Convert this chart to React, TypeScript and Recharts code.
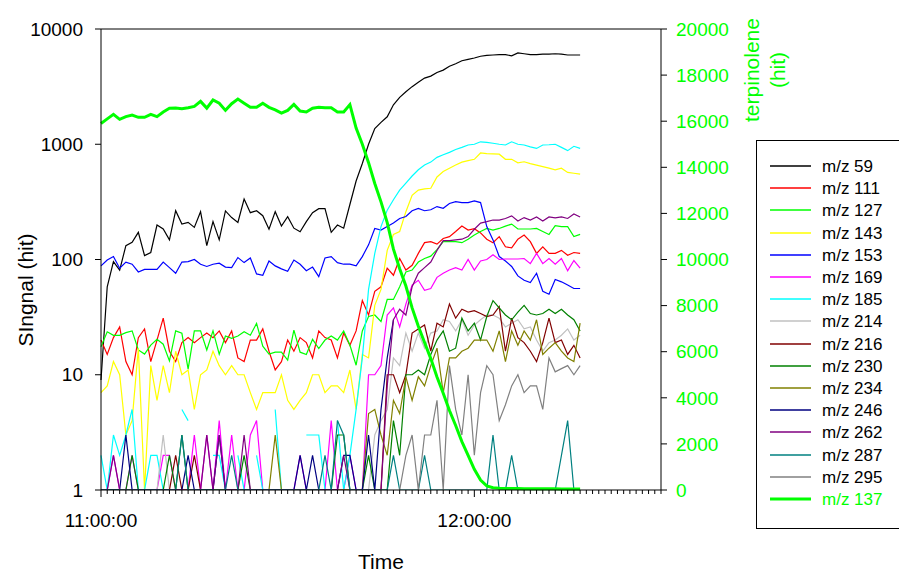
import { LineChart, Line, XAxis, YAxis, ReferenceLine } from "recharts";

const FONT = "'Liberation Sans', Arial, sans-serif";

// sampling time, minutes after 11:00:00
const minutes = [
  0, 1, 2, 3, 4, 5, 6, 7, 8, 9, 10, 11, 12, 13, 14, 15, 16, 17, 18, 19,
  20, 21, 22, 23, 24, 25, 26, 27, 28, 29, 30, 31, 32, 33, 34, 35, 36, 37, 38, 39,
  40, 41, 42, 43, 44, 45, 46, 47, 48, 49, 50, 51, 52, 53, 54, 55, 56, 57, 58, 59,
  60, 61, 62, 63, 64, 65, 66, 67, 68, 69, 70, 71, 72, 73, 74, 75, 76, 77,
];

const mz59 = [
  9, 58, 96, 81, 132, 141, 172, 108, 115, 199,
  184, 148, 265, 203, 210, 190, 260, 132, 213, 148,
  264, 231, 210, 335, 255, 265, 240, 183, 260, 195,
  235, 187, 174, 213, 255, 276, 276, 172, 199, 187,
  300, 480, 680, 1000, 1370, 1550, 1730, 2200, 2550, 2850,
  3160, 3450, 3750, 3900, 4200, 4400, 4750, 5000, 5300, 5450,
  5600, 5800, 5900, 5950, 6000, 6000, 5850, 6200, 6100, 6000,
  6000, 6050, 6050, 6100, 6050, 5950, 5950, 5950,
];
const mz111 = [
  20, 15, 21, 26, 13, 10, 21, 25, 13, 20,
  31, 16, 13, 19, 21, 19, 21, 23, 21, 24,
  19, 24, 14, 13, 20, 20, 25, 16, 11, 13,
  20, 16, 21, 19, 14, 24, 21, 20, 14, 23,
  18, 24, 44, 33, 53, 58, 84, 73, 102, 81,
  89, 113, 140, 143, 136, 152, 158, 175, 195, 180,
  185, 170, 150, 140, 158, 129, 126, 150, 163, 143,
  113, 129, 113, 113, 120, 109, 115, 113,
];
const mz127 = [
  17.5, 23.6, 22, 22, 23.2, 24, 16.4, 15.1, 18.1, 20.3,
  18.4, 13.2, 24, 22.9, 11.2, 24, 24, 16.4, 24, 15.1,
  21.7, 20.7, 21.7, 23.6, 22, 27.9, 17.7, 15.1, 15.7, 15.7,
  13.4, 24.4, 15.7, 15, 20.3, 16.9, 20, 21.7, 20, 24,
  18.1, 12.1, 24, 32, 33, 29, 45, 45, 58, 78,
  81, 95, 102, 107, 122, 143, 143, 143, 140, 150,
  163, 175, 186, 180, 186, 195, 203, 184, 184, 184,
  186, 175, 165, 197, 193, 193, 158, 165,
];
const mz143 = [
  7, 8, 13, 10, 3, 4, 17, 1, 12, 6,
  12, 7, 16, 10, 11, 5, 10, 11, 16, 12,
  10, 12, 10, 10, 7, 5, 7, 7, 7, 10,
  6, 5, 6, 7, 10, 10, 7, 8, 8, 7,
  11, 5, 15, 14, 40, 55, 120, 165, 175, 260,
  360, 400, 410, 415, 520, 580, 620, 660, 700, 720,
  740, 840, 830, 825, 820, 740, 740, 690, 705, 680,
  660, 640, 620, 600, 620, 570, 560, 550,
];
const mz153 = [
  88, 99, 106, 84, 95, 91, 78, 82, 82, 82,
  95, 85, 76, 95, 96, 100, 91, 87, 91, 93,
  86, 85, 104, 94, 103, 75, 73, 97, 88, 83,
  79, 99, 91, 80, 86, 71, 103, 106, 94, 91,
  91, 88, 106, 134, 186, 180, 193, 207, 227, 236,
  265, 278, 265, 270, 288, 278, 306, 318, 312, 312,
  322, 312, 193, 148, 106, 97, 87, 72, 66, 63,
  76, 53, 50, 67, 64, 60, 56, 56,
];
const mz169 = [
  1, 1, 2, 1, 1, 2, 1, 1, 1, 1,
  2, 2, 1, 1, 1, 3, 1, 3, 1, 4,
  1, 3, 1, 1, 3, 4, 1, 1, 1, 1,
  1, 1, 2, 1, 1, 1, 1, 4, 1, 1,
  2, 1, 1, 10, 10, 12, 33, 38, 26, 41,
  60, 66, 54, 56, 70, 76, 81, 85, 81, 100,
  81, 97, 100, 110, 100, 101, 101, 101, 102, 92,
  113, 92, 102, 91, 102, 80, 98, 84,
];
const mz185 = [
  2, 1, 3, 2, 3, 5, 1, 1, 2, 2,
  1, null, null, 5, 4, null, null, null, 2, 2,
  1, null, 2, 1, null, 2, 1, null, 5, 1,
  null, null, null, 3, 3, 3, 1, null, 4, 1,
  2, 5, 14, 55, 113, 193, 268, 330, 400, 460,
  530, 600, 660, 700, 770, 810, 850, 900, 940, 985,
  1000, 1050, 1040, 1020, 1000, 985, 1050, 1000, 985, 950,
  920, 985, 990, 1000, 940, 880, 960, 920,
];
const mz214 = [
  1, 1, 1, 1, 1, 1, 1, 1, 1, 1,
  3, 1, 1, 1, 1, 1, 1, 1, 1, 1,
  1, 1, 1, 1, 1, 1, 1, 1, 1, 1,
  1, 1, 1, 1, 1, 1, 1, 1, 1, 1,
  1, 1, 1, 1, 3, 4, 5, 14, 12, 23,
  16, 23, 17, 23, 24, 30, 29, 24, 30, 22,
  27, 30, 33, 33, 31, 26, 28, 30, 25, 26,
  20, 16, 19, 20, 22, 25, 20, 22,
];
const mz216 = [
  1, 1, 1, 1, 1, 1, 1, 1, 1, 1,
  1, 1, 2, 1, 1, 2, 1, 1, 1, 1,
  1, 1, 1, 1, 1, 1, 1, 1, 1, 1,
  1, 1, 1, 1, 1, 1, 1, 1, 1, 1,
  1, 1, 1, 1, 1, 1, 10, 10, 7, 10,
  23, 25, 27, 16, 28, 26, 41, 31, 37, 35,
  36, 34, 32, 33, 39, 16, 31, 21, 19, 16,
  13, 19, 31, 19, 20, 15, 18, 14,
];
const mz230 = [
  1, 1, 1, 1, 1, 2, 1, 1, 1, 1,
  1, 2, 1, 3, 1, 1, 1, 1, 1, 1,
  1, 1, 1, 2, 1, 1, 1, 1, 1, 1,
  1, 1, 1, 1, 1, 1, 1, 1, 3, 3,
  1, 1, 1, 2, 1, 1, 1, 4, 2, 10,
  10, 11, 10, 15, 20, 24, 16, 17, 31, 24,
  28, 20, 32, 44, 38, 33, 30, 35, 40, 34,
  33, 34, 37, 34, 37, 33, 30, 24,
];
const mz234 = [
  1, 1, 1, 1, 1, 1, 1, 1, 1, 1,
  1, 1, 1, 1, 1, 1, 1, 1, 1, 1,
  1, 1, 1, 1, 1, 1, 1, 1, 3, 1,
  1, 1, 1, 1, 1, 1, 1, 1, 1, 1,
  1, 1, 1, 4.6, 5, 3, 2, 6, 4.6, 9.6,
  6, 9.6, 8, 12, 17, 7, 14, 14, 16, 17,
  20, 20, 20, 16, 24, 13, 24, 18, 24, 20,
  30, 15, 17, 19, 16, 14, 13, 28,
];
const mz246 = [
  1, 1, 1, 1, 3, 1, 1, 1, 1, 1,
  1, 1, 1, 1, 2, 1, 1, 1, 1, 3,
  1, 1, 1, 1, 1, 1, 1, 1, 1, 1,
  1, 1, 2, 1, 2, 1, 1, 1, 1, 2,
  2, 1, 1, 3, 1, 5, 14, 30, null, null,
  null, null, null, null, null, null, null, null, null, null,
  null, null, null, null, null, null, null, null, null, null,
  null, null, null, null, null, null, null, null,
];
const mz262 = [
  1, 1, 2, 1, 1, 1, 1, 1, 1, 1,
  1, 1, 1, 1, 1, 1, 1, 3, 1, 3,
  1, 1, 1, 3, 1, 1, 1, 1, 1, 1,
  1, 1, 1, 1, 1, 1, 1, 1, 1, 2,
  1, 1, 1, 1, 1, 1, 8, 30, 37, 33,
  58, 76, 85, 95, 120, 146, 146, 148, 150, 158,
  183, 207, 213, 220, 220, 227, 239, 216, 231, 220,
  234, 216, 234, 230, 234, 227, 248, 234,
];
const mz287 = [
  1, 1, 1, 1, 1, 1, 1, 1, 1, 1,
  1, 1, 1, 3, 1, 1, 1, 1, 1, 1,
  1, 2, 1, 1, 1, 1, 1, 1, 1, 1,
  1, 1, 1, 1, 1, 1, 2, 1, 4, 3,
  1, 1, 1, 1, 1, 1, 1, 2, 1, 1,
  1, 1, 2, 1, 1, 1, 1, 1, 1, 1,
  1, 1, 1, 3, 1, 1, 2, 1, 1, 1,
  1, 1, 1, 1, 2, 4, 1, 1,
];
const mz295 = [
  null, null, null, null, null, null, null, null, null, null,
  null, null, null, null, null, null, null, null, null, null,
  null, null, null, null, null, null, null, null, null, null,
  null, null, null, null, null, null, null, null, null, null,
  null, null, null, null, null, null, null, null, 1, 2,
  3, 1, 3, 3, 6, 1, 12, 5, 3, 10,
  2, 7, 12, 10, 4, 5.5, 8, 10, 7, 8,
  8, 5, 14, 10.6, 11.3, 12, 10, 12,
];
// terpinolene, right axis
const mz137 = [
  15900, 16100, 16300, 16080, 16200, 16270, 16170, 16170, 16300, 16200,
  16400, 16560, 16570, 16540, 16580, 16640, 16860, 16570, 16920, 16780,
  16470, 16760, 16960, 16780, 16600, 16600, 16780, 16600, 16490, 16350,
  16470, 16730, 16440, 16400, 16560, 16600, 16580, 16580, 16400, 16400,
  16720, 15700, 15000, 14200, 13300, 12500, 11600, 10450, 9600, 8850,
  7900, 7100, 6400, 5700, 4900, 4200, 3450, 2800, 2100, 1500,
  900, 430, 180, 100, 80, 70, 60, 60, 50, 50,
  50, 50, 50, 50, 40, 40, 40, 40,
];

const series = [
  { key: "mz59", name: "m/z 59", color: "#000000", values: mz59 },
  { key: "mz111", name: "m/z 111", color: "#ff0000", values: mz111 },
  { key: "mz127", name: "m/z 127", color: "#00ff00", values: mz127 },
  { key: "mz143", name: "m/z 143", color: "#ffff00", values: mz143 },
  { key: "mz153", name: "m/z 153", color: "#0000ff", values: mz153 },
  { key: "mz169", name: "m/z 169", color: "#ff00ff", values: mz169 },
  { key: "mz185", name: "m/z 185", color: "#00ffff", values: mz185 },
  { key: "mz214", name: "m/z 214", color: "#c0c0c0", values: mz214 },
  { key: "mz216", name: "m/z 216", color: "#800000", values: mz216 },
  { key: "mz230", name: "m/z 230", color: "#008000", values: mz230 },
  { key: "mz234", name: "m/z 234", color: "#808000", values: mz234 },
  { key: "mz246", name: "m/z 246", color: "#000080", values: mz246 },
  { key: "mz262", name: "m/z 262", color: "#800080", values: mz262 },
  { key: "mz287", name: "m/z 287", color: "#008080", values: mz287 },
  { key: "mz295", name: "m/z 295", color: "#808080", values: mz295 },
];

const logTicks = [1, 10, 100, 1000, 10000];
const rightTicks = [0, 2000, 4000, 6000, 8000, 10000, 12000, 14000, 16000, 18000, 20000];
const xTicks = Array.from({ length: 91 }, (_, i) => i);
const timeLabels: Record<number, string> = { 0: "11:00:00", 60: "12:00:00" };

const data = minutes.map((m, i) => {
  const row: Record<string, number | null> = { t: m, mz137: mz137[i] };
  series.forEach((s) => {
    row[s.key] = s.values[i];
  });
  return row;
});

function TimeTick(props: any) {
  const { x, y, payload } = props;
  const label = timeLabels[payload.value];
  const major = label !== undefined;
  return (
    <g>
      <line x1={x} x2={x} y1={y} y2={y + (major ? 7 : 4)} stroke="#000" />
      {major && (
        <text x={x} y={y + 37} textAnchor="middle" fontSize={19} fontFamily={FONT} fill="#000">
          {label}
        </text>
      )}
    </g>
  );
}

const LeftTitle = () => (
  <text x={33} y={290} transform="rotate(-90 33 290)" textAnchor="middle" fontSize={21} fontFamily={FONT} fill="#000">
    SIngnal (hit)
  </text>
);

const RightTitle = () => (
  <g fill="#00ff00" fontSize={21} fontFamily={FONT}>
    <text x={759} y={70} transform="rotate(-90 759 70)" textAnchor="middle">
      terpinolene
    </text>
    <text x={785} y={70} transform="rotate(-90 785 70)" textAnchor="middle">
      (hit)
    </text>
  </g>
);

const TimeTitle = () => (
  <text x={381} y={569} textAnchor="middle" fontSize={21} fontFamily={FONT} fill="#000">
    Time
  </text>
);

function LegendBox() {
  const items = [...series, { key: "mz137", name: "m/z 137", color: "#00ff00", values: mz137 }];
  return (
    <svg width={143} height={390} style={{ position: "absolute", left: 756, top: 140 }}>
      <rect x={0.5} y={0.5} width={160} height={388} fill="#fff" stroke="#000" />
      {items.map((s, i) => {
        const cy = Math.round(26 + i * 22.2);
        const thick = s.key === "mz137";
        return (
          <g key={s.key}>
            <line x1={14} x2={55} y1={cy} y2={cy} stroke={s.color} strokeWidth={thick ? 3 : 1.5} />
            <text x={66} y={cy + 6} fontSize={17} fontFamily={FONT} fill={thick ? "#00ff00" : "#000"}>
              {s.name}
            </text>
          </g>
        );
      })}
    </svg>
  );
}

export default function App() {
  return (
    <div style={{ position: "absolute", left: 0, top: 0, width: 899, height: 572, background: "#fff" }}>
      <LineChart width={899} height={572} data={data} margin={{ top: 29, right: 148, bottom: 52, left: 0 }}>
        <XAxis
          dataKey="t"
          type="number"
          domain={[0, 90]}
          ticks={xTicks}
          interval={0}
          tickSize={0}
          tickMargin={0}
          tickLine={false}
          tick={<TimeTick />}
          axisLine={{ stroke: "#000" }}
          height={30}
          label={<TimeTitle />}
        />
        <YAxis
          yAxisId="left"
          scale="log"
          domain={[1, 10000]}
          ticks={logTicks}
          allowDataOverflow
          width={101}
          tickSize={6}
          tickMargin={12}
          interval={0}
          tick={{ fontSize: 19, fill: "#000", fontFamily: FONT }}
          axisLine={{ stroke: "#000" }}
          tickLine={{ stroke: "#000" }}
          label={<LeftTitle />}
        />
        <YAxis
          yAxisId="right"
          orientation="right"
          domain={[0, 20000]}
          ticks={rightTicks}
          interval={0}
          width={90}
          tickSize={6}
          tickMargin={9}
          tick={{ fontSize: 19, fill: "#00ff00", fontFamily: FONT, textAnchor: "start" }}
          axisLine={{ stroke: "#000" }}
          tickLine={{ stroke: "#000" }}
          label={<RightTitle />}
        />
        <ReferenceLine yAxisId="left" y={10000} stroke="#000" />
        {series.map((s) => (
          <Line
            key={s.key}
            yAxisId="left"
            type="linear"
            dataKey={s.key}
            name={s.name}
            stroke={s.color}
            strokeWidth={1.2}
            dot={false}
            connectNulls={false}
            isAnimationActive={false}
          />
        ))}
        <Line
          yAxisId="right"
          type="linear"
          dataKey="mz137"
          name="m/z 137"
          stroke="#00ff00"
          strokeWidth={3}
          dot={false}
          isAnimationActive={false}
        />
      </LineChart>
      <LegendBox />
    </div>
  );
}
